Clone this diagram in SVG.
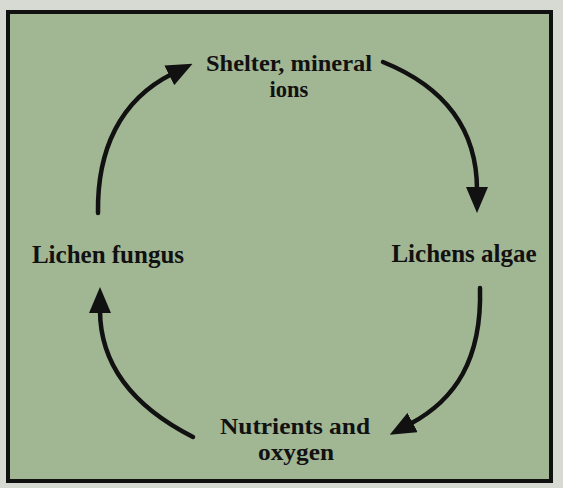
<svg xmlns="http://www.w3.org/2000/svg" width="563" height="488" viewBox="0 0 563 488">
  <defs>
    <marker id="ah" viewBox="0 0 26 22" markerUnits="userSpaceOnUse" markerWidth="26" markerHeight="22" refX="3" refY="11" orient="auto">
      <path d="M0,0 L26,11 L0,22 z" fill="#111"/>
    </marker>
    <style>
      .lbl { font-family: "Liberation Serif", "Times New Roman", serif; font-weight: bold; font-size: 25px; fill: #111; text-anchor: middle; }
      .two { font-size: 22.5px; }
      .arr { fill: none; stroke: #111; stroke-width: 4.5; stroke-linecap: round; marker-end: url(#ah); }
    </style>
  </defs>
  <rect x="0" y="0" width="563" height="488" fill="#d6dad2"/>
  <rect x="8" y="12" width="543" height="469" fill="#a1b693" stroke="#111" stroke-width="4"/>

  <g id="connectors">
    <path class="arr" d="M98,213 C97,150 120,100 172,74"/>
    <path class="arr" d="M383,62 C440,85 477,125 477,190"/>
    <path class="arr" d="M480,288 C482,360 455,400 410,424"/>
    <path class="arr" d="M193,437 C140,410 100,370 100,310"/>
  </g>

  <g id="shelter">
    <text class="lbl two" x="289" y="71" textLength="166" lengthAdjust="spacingAndGlyphs">Shelter, mineral</text>
    <text class="lbl two" x="289" y="97">ions</text>
  </g>
  <g id="algae">
    <text class="lbl" x="464" y="262">Lichens algae</text>
  </g>
  <g id="nutrients">
    <text class="lbl two" x="295" y="434" textLength="150" lengthAdjust="spacingAndGlyphs">Nutrients and</text>
    <text class="lbl two" x="296" y="460" textLength="76" lengthAdjust="spacingAndGlyphs">oxygen</text>
  </g>
  <g id="fungus">
    <text class="lbl" x="108" y="263">Lichen fungus</text>
  </g>
</svg>
